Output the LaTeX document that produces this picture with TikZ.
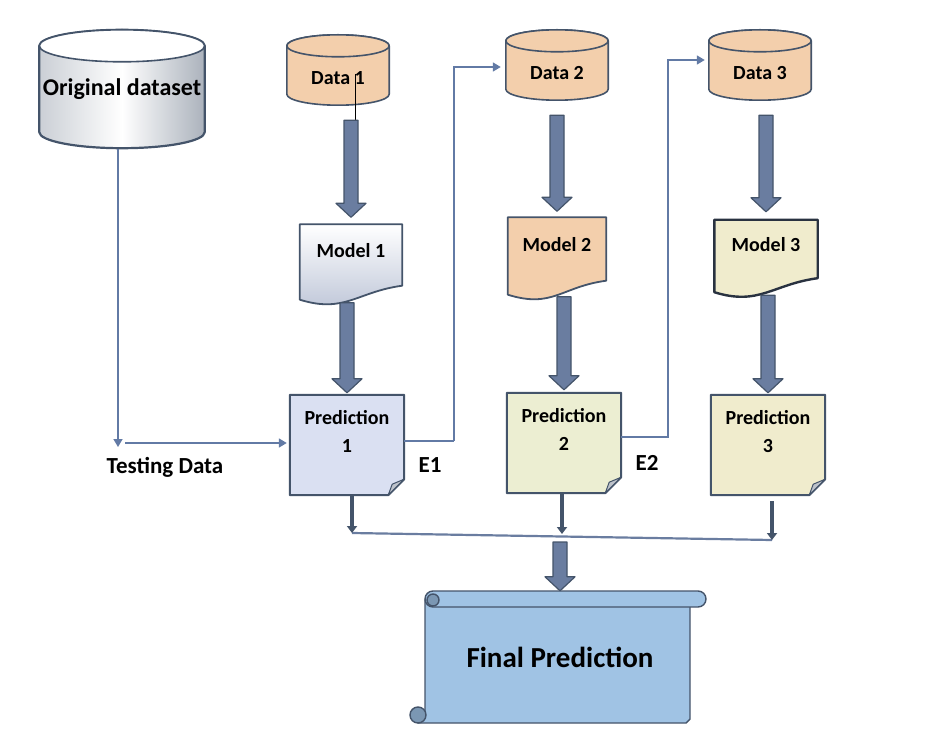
\documentclass[tikz,border=0pt]{standalone}
\usepackage{fontspec}
\setmainfont{Carlito}
\usetikzlibrary{arrows.meta,calc,backgrounds}

\definecolor{slate}{RGB}{68,84,106}
\definecolor{arrowfill}{RGB}{106,125,160}
\definecolor{linkblue}{RGB}{98,122,165}
\definecolor{peach}{RGB}{243,207,172}
\definecolor{predblue}{RGB}{218,224,242}
\definecolor{predyellow}{RGB}{236,238,210}
\definecolor{paleyellow}{RGB}{240,236,205}
\definecolor{finalblue}{RGB}{160,195,228}

\tikzset{
  every node/.style={font=\fontsize{20}{28}\selectfont\bfseries},
  datadb/.style={rectangle, minimum width=102pt, minimum height=48pt, text height=29pt},
  dbline/.style={draw=slate, line width=1.6pt, line join=round},
  modeldoc/.style={rectangle, minimum width=102pt, minimum height=75pt, text depth=24pt},
  docline/.style={draw=slate, line width=1.8pt, line join=round},
  predbox/.style={rectangle, minimum width=114pt, minimum height=100pt, align=center, text depth=28pt},
  bigtext/.style={font=\fontsize{23}{28}\selectfont\bfseries},
  link/.style={draw=linkblue, line width=1.6pt, -{Triangle[width=9pt,length=8pt]}},
  droparrow/.style={draw=slate, fill=arrowfill, line width=1.2pt, line join=round},
  smallarrow/.style={draw=slate, line width=3.5pt, -{Triangle[width=10pt,length=7pt]}},
  busline/.style={draw=arrowfill, line width=2.2pt},
  scrollpart/.style={draw=slate, fill=finalblue, line width=1.4pt, line join=round}
}

% block arrow going down to the second point
\newcommand\bigarrow[2]{%
  \draw[droparrow] let \p1=(#1), \p2=(#2) in
    (\x2-7pt,\y1) -- (\x2+7pt,\y1) -- (\x2+7pt,\y2+14pt) -- (\x2+15pt,\y2+14pt)
    -- (\x2,\y2) -- (\x2-15pt,\y2+14pt) -- (\x2-7pt,\y2+14pt) -- cycle;}

% cylinder behind a data node: node, end radius, body fill, top fill
\newcommand\dbshape[4]{%
  \begin{pgfonlayer}{background}
  \filldraw[dbline, #3] let \p1=(#1.north west), \p2=(#1.north east), \n1={(\x2-\x1)/2} in
    (#1.north west) -- (#1.south west) arc[start angle=180, end angle=360, x radius=\n1, y radius=#2pt]
    -- (#1.north east) arc[start angle=0, end angle=180, x radius=\n1, y radius=#2pt] -- cycle;
  \filldraw[dbline, fill=#4] let \p1=(#1.north west), \p2=(#1.north east), \n1={(\x2-\x1)/2} in
    (#1.north) ellipse [x radius=\n1, y radius=#2pt];
  \end{pgfonlayer}}

% document outline with the wavy bottom, behind the model text
\newcommand\docshape[2]{%
  \begin{pgfonlayer}{background}
  \filldraw[docline, #2] (#1.north west) -- (#1.north east) -- ([yshift=14pt]#1.south east)
    .. controls ([xshift=-45pt,yshift=8pt]#1.south east) and ([xshift=45pt,yshift=-14pt]#1.south west)
    .. (#1.south west) -- cycle;
  \end{pgfonlayer}}

% outline of a prediction note with the folded corner
\newcommand\foldcorner[1]{%
  \fill[white] ([xshift=-16pt]#1.south east) -- (#1.south east) -- ([yshift=16pt]#1.south east) -- cycle;
  \draw[slate, line width=2pt, line join=round] (#1.north west) -- (#1.north east)
    -- ([yshift=16pt]#1.south east) -- ([xshift=-16pt]#1.south east) -- (#1.south west) -- cycle;
  \filldraw[draw=slate, fill=slate!35, line width=1pt, line join=round] ([yshift=16pt]#1.south east)
    -- ([xshift=-16pt]#1.south east) -- ([xshift=-12pt,yshift=11pt]#1.south east) -- cycle;}

\begin{document}
\begin{tikzpicture}[x=1pt,y=-1pt]
\begin{pgfonlayer}{background}
\fill[white] (0,0) rectangle (925,735);
\end{pgfonlayer}
\useasboundingbox (0,0) rectangle (925,735);

% data stores
\node[datadb, minimum width=165pt, minimum height=86pt, text height=17pt,
  font=\fontsize{24}{28}\selectfont\bfseries] (orig) at (122,89) {Original dataset};
\dbshape{orig}{16}{line width=2.2pt, left color=slate!28, right color=slate!45, middle color=white}{white}
\node[datadb] (d1) at (338,70) {Data 1};
\dbshape{d1}{11}{fill=peach}{peach}
\node[datadb] (d2) at (557,65) {Data 2};
\dbshape{d2}{11}{fill=peach}{peach}
\node[datadb] (d3) at (760,65) {Data 3};
\dbshape{d3}{11}{fill=peach}{peach}
\draw[black, line width=0.8pt] ([xshift=17pt,yshift=-4pt]d1.center) -- ([xshift=17pt,yshift=-58pt]d1.center);

% models
\node[modeldoc] (m1) at (351,262) {Model 1};
\docshape{m1}{top color=white, bottom color=predblue!80!slate}
\node[modeldoc, minimum width=98pt, minimum height=77pt] (m2) at (557,256) {Model 2};
\docshape{m2}{fill=peach}
\node[modeldoc, minimum width=103pt, minimum height=72pt] (m3) at (766,256) {Model 3};
\docshape{m3}{fill=paleyellow, draw=slate!60!black, line width=2.4pt}

% predictions
\node[predbox, fill=predblue] (p1) at (347,445) {Prediction\\1};
\foldcorner{p1}
\node[predbox, fill=predyellow] (p2) at (564,443) {Prediction\\2};
\foldcorner{p2}
\node[predbox, fill=paleyellow] (p3) at (768,445) {Prediction\\3};
\foldcorner{p3}

% final scroll
\filldraw[scrollpart] (425,600) -- (425,714) -- (418,723) -- (686,723) -- (690,719) -- (690,605) -- cycle;
\filldraw[scrollpart, rounded corners=8pt] (425,591) rectangle (706,607);
\filldraw[scrollpart, fill=finalblue!60!slate] (433,600) circle (6pt);
\filldraw[scrollpart, fill=finalblue!60!slate] (418,715) circle (8pt);
\node[minimum width=265pt, minimum height=132pt, font=\fontsize{29}{32}\selectfont\bfseries] (final) at (560,657) {Final Prediction};

% labels
\node[bigtext] (td) at (165,467) {Testing Data};
\node[bigtext] (e1) at (430,465) {E1};
\node[bigtext] (e2) at (647,463) {E2};

% block arrows
\bigarrow{[yshift=-26pt]d1.south}{[yshift=7pt]m1.north}
\bigarrow{[yshift=-26pt]d2.south}{[yshift=6pt]m2.north}
\bigarrow{[yshift=-26pt]d3.south}{[yshift=8pt]m3.north}
\bigarrow{[yshift=-3pt]m1.south}{[yshift=2pt]p1.north}
\bigarrow{[yshift=-2pt]m2.south}{[yshift=3pt]p2.north}
\bigarrow{[yshift=-3pt]m3.south}{[yshift=2pt]p3.north}

% testing data path
\coordinate (tdcorner) at (118,447);
\coordinate (tdstart) at (125,443);
\draw[link, shorten <=17pt] (orig.south -| tdcorner) -- (tdcorner);
\draw[link, shorten >=3pt] (tdstart) -- (tdstart -| p1.west);

% error links
\draw[link, -] ([yshift=4pt]p1.east) -- ++(50,0);
\draw[link, shorten >=5pt] ([yshift=4pt,xshift=50pt]p1.east) |- ([yshift=-2pt]d2.west);
\draw[link, shorten >=4pt] ([yshift=6pt]p2.east) -- ++(47,0) |- ([yshift=5pt]d3.west);

% collecting the predictions
\coordinate (b1) at (352,533);
\coordinate (b2) at (562,534);
\coordinate (b3) at (772,540);
\draw[busline] (b1) -- (b3);
\draw[smallarrow] (p1.south -| b1) -- (b1);
\draw[smallarrow] (p2.south -| b2) -- (b2);
\draw[smallarrow] ([yshift=-6pt]p3.south -| b3) -- (b3);
\coordinate (bus) at (560,537);
\bigarrow{[yshift=-5pt]bus}{final.north}
\end{tikzpicture}
\end{document}
